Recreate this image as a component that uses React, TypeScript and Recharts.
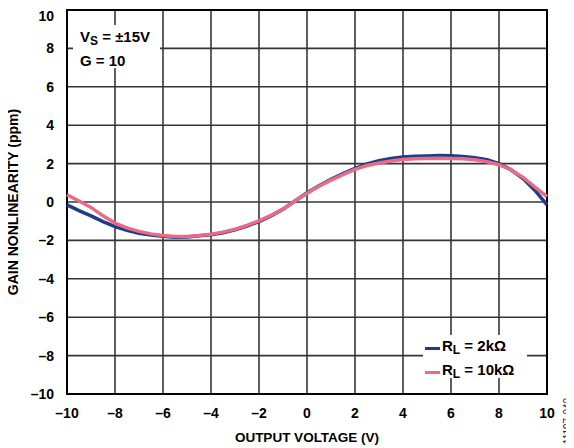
import { LineChart, Line, XAxis, YAxis, CartesianGrid, ReferenceArea } from 'recharts';

const outputVoltage = [
  -10, -9.5, -9, -8.5, -8, -7.5, -7, -6.5, -6, -5.5, -5, -4.5, -4, -3.5, -3, -2.5, -2, -1.5, -1, -0.5,
  0, 0.5, 1, 1.5, 2, 2.5, 3, 3.5, 4, 4.5, 5, 5.5, 6, 6.5, 7, 7.5, 8, 8.5, 9, 9.5, 10,
];

// RL = 2kΩ
const rl2k = [
  -0.15, -0.45, -0.72, -1.02, -1.28, -1.48, -1.63, -1.72, -1.79, -1.84, -1.82, -1.76, -1.7, -1.6, -1.45, -1.25, -1.02, -0.72, -0.38, 0.05,
  0.48, 0.85, 1.18, 1.48, 1.75, 1.98, 2.15, 2.27, 2.35, 2.38, 2.4, 2.42, 2.41, 2.37, 2.3, 2.2, 2.0, 1.68, 1.22, 0.6, -0.15,
];

// RL = 10kΩ
const rl10k = [
  0.38, 0.05, -0.28, -0.72, -1.1, -1.35, -1.53, -1.66, -1.74, -1.8, -1.8, -1.75, -1.68, -1.57, -1.42, -1.22, -0.98, -0.7, -0.36, 0.05,
  0.46, 0.82, 1.14, 1.43, 1.7, 1.9, 2.03, 2.14, 2.21, 2.25, 2.27, 2.28, 2.27, 2.25, 2.2, 2.1, 1.94, 1.68, 1.28, 0.78, 0.28,
];

const ticks = [-10, -8, -6, -4, -2, 0, 2, 4, 6, 8, 10];
const tickLabel = (v: number) => (v < 0 ? '\u2013' + Math.abs(v) : String(v));

const data = outputVoltage.map((x, i) => ({ x, rl2k: rl2k[i], rl10k: rl10k[i] }));

const BLUE = '#1f3c88';
const PINK = '#eb6b86';
const font = 'Arial, "Liberation Sans", sans-serif';

export default function App() {
  const tickStyle = { fill: '#000', fontSize: 14, fontWeight: 700, fontFamily: font };
  return (
    <div style={{ position: 'relative', width: 566, height: 440, fontFamily: font }}>
      <LineChart width={566} height={440} data={data} margin={{ top: 2, right: 27, bottom: 0, left: 0 }}>
        <CartesianGrid stroke="#363636" strokeWidth={1.6} horizontalValues={ticks} verticalValues={ticks} />
        <XAxis
          type="number"
          dataKey="x"
          domain={[-10, 10]}
          ticks={ticks}
          tickFormatter={tickLabel}
          tick={tickStyle}
          tickLine={false}
          axisLine={false}
          tickSize={0}
          tickMargin={14}
          height={54}
        />
        <YAxis
          type="number"
          domain={[-10, 10]}
          ticks={ticks}
          tickFormatter={tickLabel}
          tick={tickStyle}
          tickLine={false}
          axisLine={false}
          tickSize={0}
          tickMargin={13}
          width={59}
        />
        <ReferenceArea x1={-10} x2={10} y1={-10} y2={10} fill="none" stroke="#000" strokeWidth={2} ifOverflow="visible" />
        <Line type="linear" dataKey="rl2k" stroke={BLUE} strokeWidth={3.5} dot={false} isAnimationActive={false} />
        <Line type="linear" dataKey="rl10k" stroke={PINK} strokeWidth={3.5} dot={false} isAnimationActive={false} />
      </LineChart>

      {/* condition box */}
      <div style={{ position: 'absolute', left: 65, top: 17, width: 87, height: 43, background: '#fff', fontSize: 15, fontWeight: 700, lineHeight: '20px', paddingLeft: 7, boxSizing: 'border-box', paddingTop: 2 }}>
        <div>V<sub style={{ fontSize: 12, verticalAlign: -3 }}>S</sub> = ±15V</div>
        <div>G = 10</div>
      </div>

      {/* legend */}
      <div style={{ position: 'absolute', left: 415, top: 327, width: 104, height: 43, background: '#fff', fontSize: 15, fontWeight: 700, lineHeight: '19px', boxSizing: 'border-box', paddingTop: 1 }}>
        {[{ c: BLUE, t: '2k\u03a9' }, { c: PINK, t: '10k\u03a9' }].map((e) => (
          <div key={e.t} style={{ display: 'flex', alignItems: 'center' }}>
            <span style={{ display: 'inline-block', width: 15, height: 3, background: e.c, marginLeft: 2, marginRight: 2 }} />
            <span>R<sub style={{ fontSize: 12, verticalAlign: -3 }}>L</sub> = {e.t}</span>
          </div>
        ))}
      </div>

      {/* axis titles and figure number */}
      <svg width={566} height={440} style={{ position: 'absolute', left: 0, top: 0, pointerEvents: 'none' }}>
        <text x={299} y={434} textAnchor="middle" fontSize={13.5} fontWeight={700} fontFamily={font}>OUTPUT VOLTAGE (V)</text>
        <text transform="translate(10,194) rotate(-90)" textAnchor="middle" fontSize={14} fontWeight={700} fontFamily={font}>
          GAIN NONLINEARITY (ppm)
        </text>
        <text transform="translate(563,413) rotate(-90)" textAnchor="middle" fontSize={10} fill="#222" fontFamily={font}>11197-040</text>
      </svg>
    </div>
  );
}
